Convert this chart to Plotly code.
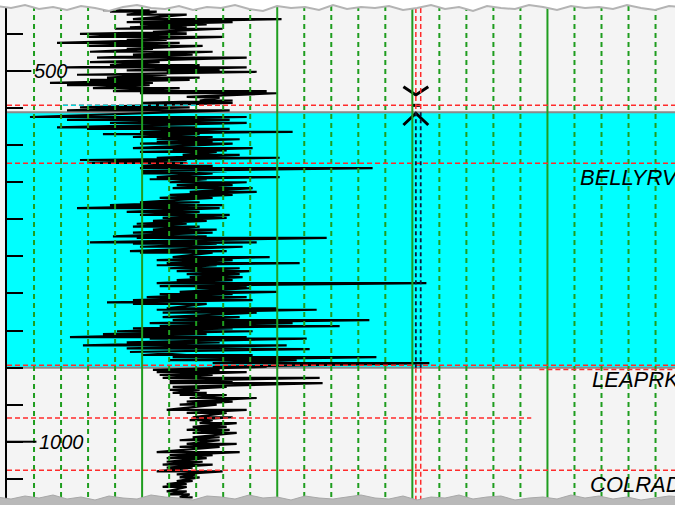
import plotly.graph_objects as go

# ---------------- data ----------------
# depth (ft) of each sample, and the low / high gamma-ray excursion at that depth (API)
log_depth = [
    418, 420, 424, 430, 434, 437, 441, 443, 447, 450,
    453, 454, 458, 462, 466, 470, 474, 478, 482, 488,
    492, 495, 499, 501, 505, 509, 512, 516, 519, 523,
    527, 530, 535, 536, 540, 543, 549, 553, 562, 566,
    570, 576, 578, 582, 585, 589, 592, 596, 598, 604,
    607, 609, 613, 617, 620, 624, 628, 631, 635, 638,
    643, 646, 650, 654, 658, 663, 667, 671, 677, 681,
    685, 690, 694, 698, 702, 706, 710, 714, 718, 723,
    725, 731, 733, 737, 743, 745, 751, 755, 759, 762,
    766, 770, 774, 778, 782, 786, 790, 793, 798, 801,
    805, 809, 812, 814, 820, 822, 826, 832, 836, 840,
    844, 847, 851, 855, 859, 861, 866, 870, 874, 875,
    879, 883, 886, 890, 894, 899, 903, 906, 910, 914,
    918, 921, 926, 930, 934, 937, 941, 946, 950, 957,
    961, 967, 971, 975, 980, 984, 988, 994, 998, 1003,
    1007, 1014, 1018, 1022, 1027, 1031, 1035, 1040, 1044, 1048,
    1053, 1057, 1061, 1067, 1071, 1075,
]
gr_low = [
    35.5, 38.1, 44.3, 46.6, 44.3, 49.2, 45.5, 39.9, 54.0, 27.0,
    34.4, 29.6, 44.3, 18.5, 29.6, 44.3, 30.7, 46.6, 33.3, 30.7,
    38.1, 22.2, 44.3, 59.1, 25.9, 37.0, 30.7, 15.9, 22.2, 31.8,
    39.2, 49.2, 66.5, 67.6, 71.3, 50.3, 27.0, 22.2, 8.5, 22.2,
    38.1, 18.5, 29.6, 49.2, 35.5, 46.6, 55.4, 55.4, 49.2, 46.6,
    61.3, 49.2, 65.0, 55.4, 27.0, 29.6, 50.3, 49.2, 50.3, 50.3,
    55.4, 52.8, 60.2, 62.8, 61.3, 67.6, 60.2, 56.5, 49.2, 38.1,
    25.9, 44.3, 49.2, 57.6, 54.0, 48.0, 46.6, 54.0, 46.6, 39.2,
    48.0, 30.7, 46.6, 49.2, 45.5, 49.2, 61.3, 55.4, 59.1, 55.4,
    60.2, 62.8, 66.5, 67.6, 62.8, 55.4, 56.5, 70.2, 63.9, 56.5,
    51.7, 46.6, 37.0, 46.6, 59.1, 55.4, 57.6, 57.6, 61.3, 52.8,
    56.5, 46.6, 40.7, 35.5, 23.3, 52.8, 44.3, 28.1, 44.3, 45.5,
    45.5, 50.3, 61.3, 60.2, 76.1, 76.1, 54.0, 55.4, 56.5, 57.6,
    60.2, 60.2, 61.3, 60.2, 61.3, 63.9, 67.6, 66.5, 63.9, 59.1,
    66.5, 68.7, 67.6, 71.3, 68.7, 66.5, 68.7, 68.7, 63.9, 66.5,
    63.9, 55.4, 60.2, 59.1, 59.1, 57.6, 59.1, 55.4, 62.8, 63.9,
    62.8, 59.1, 57.6, 59.1, 60.2, 63.9,
]
gr_high = [
    52.8, 55.4, 66.5, 101.6, 83.5, 73.9, 66.5, 79.8, 66.5, 66.5,
    61.3, 79.8, 59.1, 63.9, 72.4, 54.0, 76.1, 68.7, 88.7, 56.5,
    71.3, 88.7, 78.7, 92.4, 59.1, 71.3, 67.6, 54.0, 52.8, 63.9,
    96.1, 99.8, 76.1, 78.7, 83.5, 83.5, 67.6, 82.4, 88.7, 82.4,
    88.7, 70.2, 82.4, 105.7, 71.3, 76.1, 86.1, 76.1, 83.5, 90.9,
    81.3, 77.6, 86.1, 100.9, 66.5, 66.5, 76.1, 135.3, 81.3, 76.1,
    100.9, 73.9, 88.7, 83.5, 90.9, 92.4, 83.5, 76.1, 71.3, 79.8,
    78.7, 71.3, 82.4, 81.3, 73.9, 66.5, 71.3, 77.6, 76.1, 73.9,
    118.3, 92.4, 77.6, 87.2, 81.3, 76.1, 97.2, 83.5, 108.3, 77.6,
    86.1, 89.8, 86.1, 87.2, 83.5, 155.2, 88.7, 89.8, 99.8, 83.5,
    88.7, 90.9, 66.5, 73.9, 99.8, 114.6, 92.4, 86.1, 134.1, 105.7,
    123.1, 83.5, 90.9, 73.9, 88.7, 110.9, 78.7, 103.5, 72.4, 112.0,
    66.5, 90.9, 136.7, 107.2, 156.3, 96.1, 78.7, 88.7, 76.1, 115.7,
    83.5, 116.8, 81.3, 71.3, 73.9, 81.3, 92.4, 83.5, 77.6, 88.7,
    81.3, 83.5, 76.1, 85.0, 81.3, 82.4, 85.0, 78.7, 78.7, 85.0,
    78.7, 86.1, 76.1, 73.9, 72.4, 76.1, 68.7, 79.8, 70.2, 71.3,
    68.7, 66.5, 66.5, 66.5, 67.6, 68.7,
]
assert len(log_depth) == len(gr_low) == len(gr_high)

formation_names = ["BELLYRV", "LEAPRK", "COLRAD"]
formation_tops = [624.5, 897.0, 1038.6]
pick_depth = 546.3          # picked top with the X marker
extra_line_depth = 968.0    # short red correlation line
extra_line_end = 194.0
zone_top = 555.7            # shaded (cyan) interval
zone_base = 900.2
marker_gr = [151.3, 153.1]  # paired vertical marker lines
depth_ticks = list(range(450, 1051, 50))
depth_labels = [500, 1000]
gr_grid = list(range(10, 250, 10))

x_range = [0, 247.2]
y_range = [1086.7, 404.2]

# ---------------- styling ----------------
GREEN = "#1f9d1f"
RED = "#ff2b2b"
FONT = "Liberation Sans"

# build the spiky log trace (low -> high excursion at each sample)
xs, ys = [], []
for d, lo, hi in zip(log_depth, gr_low, gr_high):
    xs += [lo, hi]
    ys += [d, d]

fig = go.Figure()
fig.add_trace(go.Scatter(x=xs, y=ys, mode="lines",
                         line=dict(color="black", width=2.2),
                         hoverinfo="skip", showlegend=False))

# X marker at the pick
mc = marker_gr[0]
hw = 4.6
fig.add_trace(go.Scatter(
    x=[mc - hw, mc, mc + hw, None, mc - hw, mc, mc + hw, None, mc - 1.5, mc + 1.5],
    y=[pick_depth - 25.2, pick_depth - 14.0, pick_depth - 25.2, None,
       zone_top + 17.1, zone_top + 1.3, zone_top + 17.1, None, pick_depth, pick_depth],
    mode="lines", line=dict(color="black", width=3), hoverinfo="skip", showlegend=False))

shapes = []
# cyan zone
shapes.append(dict(type="rect", xref="paper", x0=0, x1=1, yref="y", y0=zone_top, y1=zone_base,
                   fillcolor="#00ffff", line=dict(width=0), layer="below"))
for d in (zone_top, zone_base):
    shapes.append(dict(type="line", xref="paper", x0=0, x1=1, yref="y", y0=d, y1=d,
                       line=dict(color="#8a8a8a", width=2), layer="below"))

# vertical grid
for g in gr_grid:
    solid = g % 50 == 0
    shapes.append(dict(type="line", xref="x", x0=g, x1=g, yref="paper", y0=0, y1=1,
                       line=dict(color=GREEN, width=2,
                                 dash="solid" if solid else "5px,4px"),
                       layer="above"))

# red correlation lines
for d in [pick_depth] + formation_tops:
    shapes.append(dict(type="line", xref="paper", x0=0, x1=1, yref="y", y0=d, y1=d,
                       line=dict(color=RED, width=1.5, dash="5px,3px"), layer="above"))
shapes.append(dict(type="line", xref="x", x0=0, x1=extra_line_end, yref="y",
                   y0=extra_line_depth, y1=extra_line_depth,
                   line=dict(color=RED, width=1.5, dash="5px,3px"), layer="above"))
shapes.append(dict(type="line", xref="x", x0=197, x1=x_range[1], yref="y",
                   y0=zone_base + 2.5, y1=zone_base + 2.5,
                   line=dict(color=RED, width=1.5, dash="5px,3px"), layer="above"))
shapes.append(dict(type="line", xref="x", x0=20.7, x1=70.3, yref="y",
                   y0=pick_depth, y1=pick_depth,
                   line=dict(color="#00d8e0", width=1.5, dash="5px,3px"), layer="above"))

# paired vertical marker lines
for g in marker_gr:
    for a, b in ((y_range[1], zone_top), (zone_base, y_range[0])):
        shapes.append(dict(type="line", xref="x", x0=g, x1=g, yref="y", y0=a, y1=b,
                           line=dict(color=RED, width=1.5, dash="5px,3px"), layer="above"))
    shapes.append(dict(type="line", xref="x", x0=g, x1=g, yref="y", y0=zone_top, y1=zone_base,
                       line=dict(color="#0a1a3a", width=1.8, dash="4px,3px"), layer="above"))

# longer ticks at labelled depths
for d, end in zip(depth_labels, [9.0, 10.9]):
    shapes.append(dict(type="line", xref="x", x0=0, x1=end, yref="y", y0=d, y1=d,
                       line=dict(color="black", width=2), layer="above"))

# torn paper edges
top_jag = [6, 8, 5, 9, 7, 10, 6, 8, 11, 7, 5, 8, 9, 6, 10, 7, 8, 5, 9, 11, 6, 8, 7, 10, 5,
           9, 7, 8, 6, 10, 8, 5, 9, 7, 11, 6, 8, 9, 5, 7, 10, 6, 8, 7, 9, 5, 8, 10, 6, 7, 9]
bot_jag = [9, 7, 10, 8, 11, 7, 9, 6, 10, 8, 7, 11, 9, 8, 6, 10, 9, 7, 11, 8, 9, 6, 10, 8, 7,
           9, 11, 8, 7, 10, 6, 9, 8, 11, 7, 9, 10, 6, 8, 9, 7, 11, 8, 10, 7, 9, 6, 8, 10, 9, 7]
step = 14
top_pts = [(-10 + i * step, -v) for i, v in enumerate(top_jag)]
bot_pts = [(-10 + i * step, v) for i, v in enumerate(bot_jag)]
top_line = "M " + " L ".join(f"{x},{y}" for x, y in top_pts)
top_fill = "M -10,5 L " + " L ".join(f"{x},{y}" for x, y in top_pts) + f" L {top_pts[-1][0]},5 Z"
bot_fill = "M -10,-2 L " + " L ".join(f"{x},{y}" for x, y in bot_pts) + f" L {bot_pts[-1][0]},-2 Z"
shapes.append(dict(type="path", xref="paper", yref="paper", xsizemode="pixel", ysizemode="pixel",
                   xanchor=0, yanchor=1, path=top_fill, fillcolor="white",
                   line=dict(width=0), layer="above"))
shapes.append(dict(type="path", xref="paper", yref="paper", xsizemode="pixel", ysizemode="pixel",
                   xanchor=0, yanchor=1, path=top_line, fillcolor="rgba(0,0,0,0)",
                   line=dict(color="#b4b4b4", width=2), layer="above"))
shapes.append(dict(type="path", xref="paper", yref="paper", xsizemode="pixel", ysizemode="pixel",
                   xanchor=0, yanchor=0, path=bot_fill, fillcolor="#b9b9b9",
                   line=dict(color="#a8a8a8", width=1), layer="above"))
shapes.append(dict(type="rect", xref="paper", yref="paper", xsizemode="pixel", ysizemode="pixel",
                   xanchor=0, yanchor=0, x0=-10, x1=700, y0=-5, y1=1,
                   fillcolor="white", line=dict(width=0), layer="above"))

annotations = []
for d, xl in zip(depth_labels, [9.25, 11.1]):
    annotations.append(dict(x=xl, y=d, xref="x", yref="y", text=str(d), showarrow=False,
                            xanchor="left", yanchor="middle",
                            font=dict(family=FONT, size=20, color="black", style="italic")))
label_gr = [211.3, 215.7, 215.0]
for name, top, xl in zip(formation_names, formation_tops, label_gr):
    annotations.append(dict(x=xl, y=top + 18.5, xref="x", yref="y", text=name, showarrow=False,
                            xanchor="left", yanchor="middle",
                            font=dict(family=FONT, size=22, color="black", style="italic")))

fig.update_layout(
    width=675, height=506,
    margin=dict(l=7, r=0, t=0, b=0),
    paper_bgcolor="#f4f4f4", plot_bgcolor="#f4f4f4",
    showlegend=False, hovermode=False,
    xaxis=dict(range=x_range, visible=False, fixedrange=True),
    yaxis=dict(range=y_range, showgrid=False, zeroline=False, showline=True,
               linecolor="black", linewidth=2, ticks="inside", ticklen=16, tickwidth=2,
               tickcolor="black", tickvals=depth_ticks, showticklabels=False, fixedrange=True),
    shapes=shapes, annotations=annotations,
)

fig.write_html("out.html", config={"displayModeBar": False},
               post_script="document.body.style.margin='0';document.body.style.overflow='hidden';")
